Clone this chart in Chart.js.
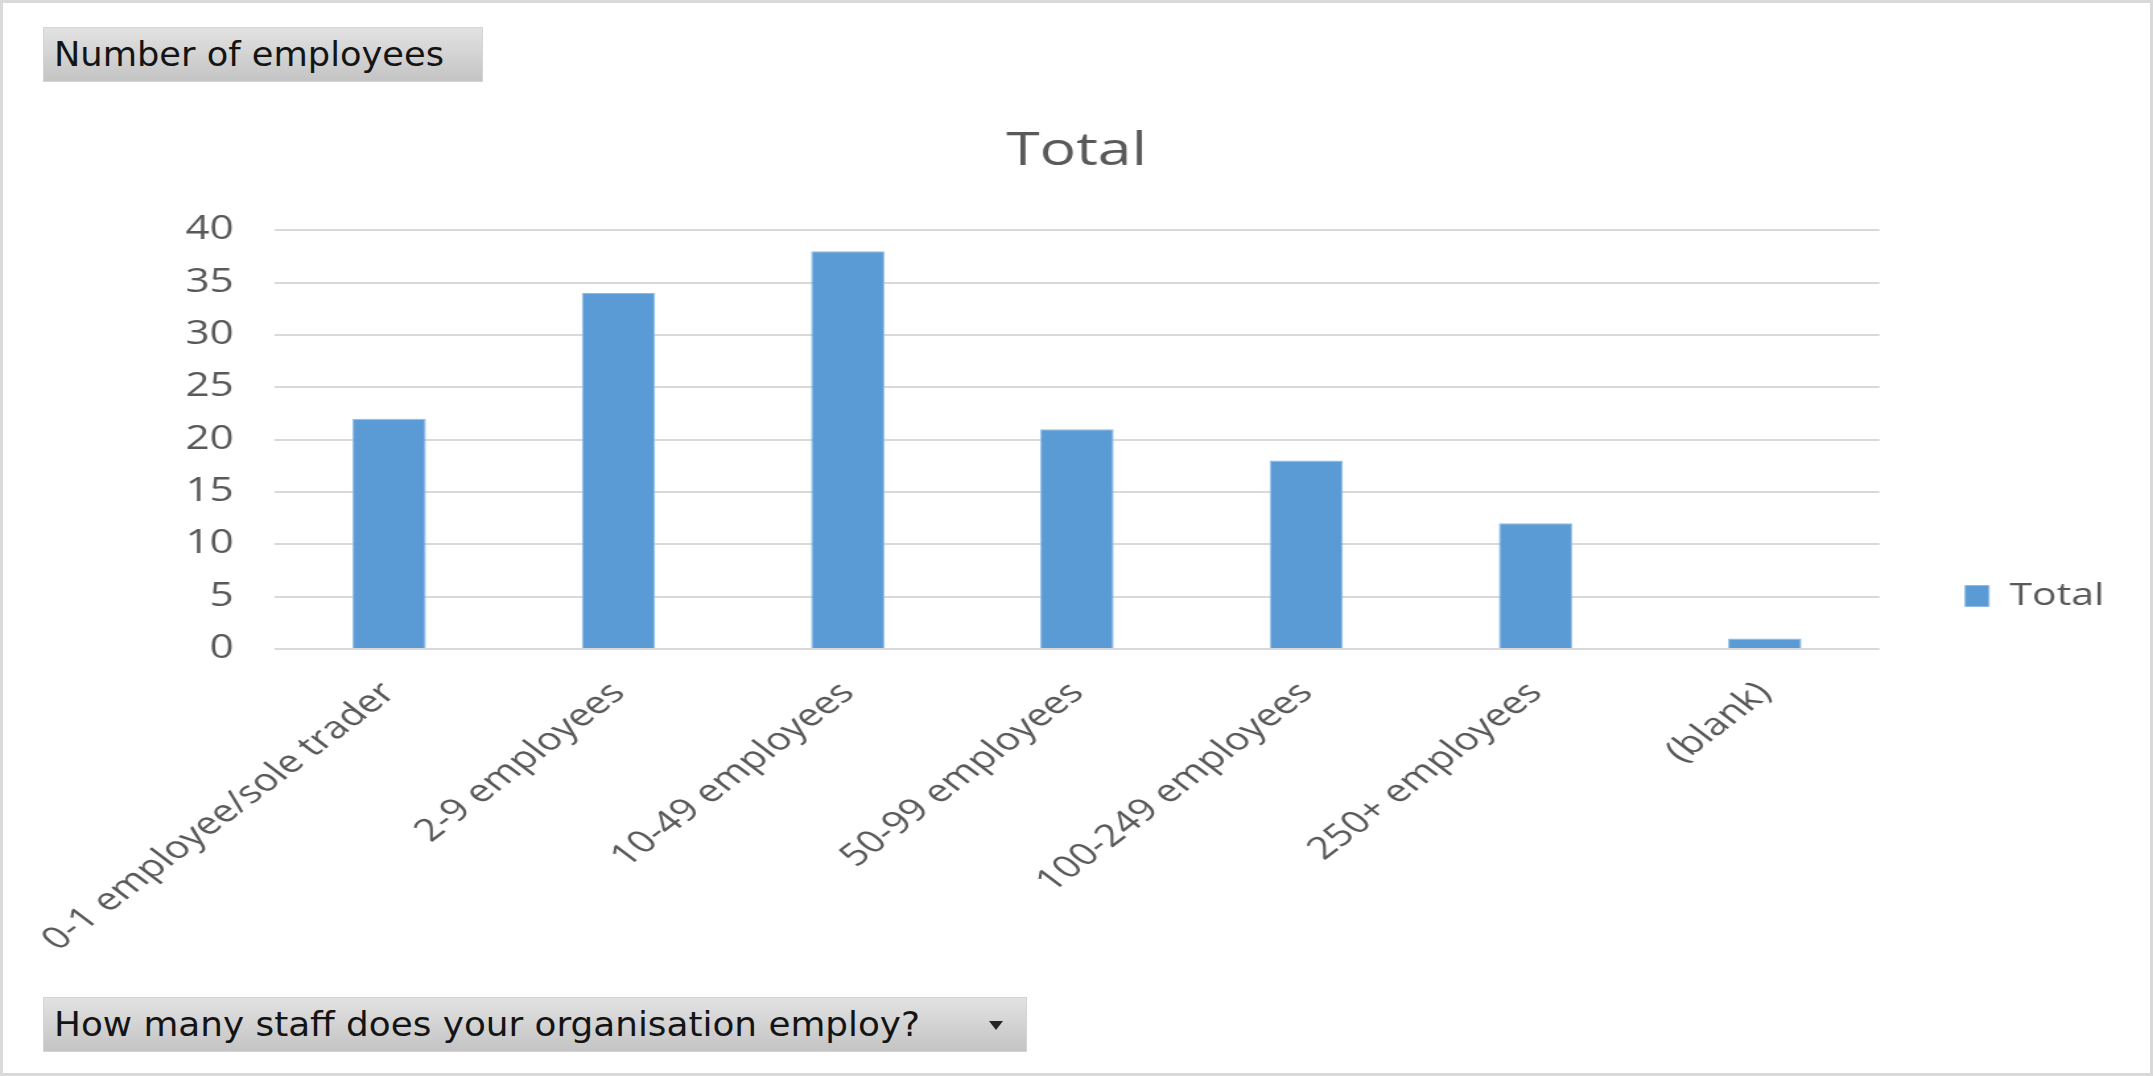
<!DOCTYPE html>
<html>
<head>
<meta charset="utf-8">
<script src="https://cdn.jsdelivr.net/npm/chart.js@4.4.1/dist/chart.umd.min.js"></script>
<style>
  html, body { margin: 0; padding: 0; background: #ffffff; }
  body { width: 2153px; height: 1076px; position: relative; overflow: hidden; }
  /* the chart is laid out on a narrower canvas and widened to the page */
  #stage {
    position: absolute; left: 0; top: 0; width: 1631px; height: 1076px;
    transform: scaleX(1.3201); transform-origin: 0 0;
  }
  #frame {
    position: absolute; left: 0; top: 0; width: 2147px; height: 1070px;
    border: 3px solid #d9d9d9; box-sizing: content-box;
  }
  .field-btn {
    position: absolute; box-sizing: border-box;
    background: linear-gradient(#e2e2e2, #c4c4c4);
    border: 1px solid #d4d4d4;
    color: #141414; white-space: nowrap; overflow: visible;
    font-family: "DejaVu Sans", Tahoma, sans-serif; font-size: 34px;
  }
  .field-btn .txt { display: inline-block; transform-origin: 0 50%; }
  #measureBtn { left: 43px; top: 27px; width: 440px; height: 55px; line-height: 53px; padding-left: 10px; }
  #rowBtn { left: 43px; top: 997px; width: 984px; height: 55px; line-height: 53px; padding-left: 10px; }
  #rowBtn .arrow {
    position: absolute; left: 945px; top: 23px; width: 0; height: 0;
    border-left: 7px solid transparent; border-right: 7px solid transparent;
    border-top: 9px solid #262626;
  }
</style>
</head>
<body>
<div id="stage"><canvas id="chart" width="1631" height="1076"></canvas></div>
<div id="frame"></div>
<div class="field-btn" id="measureBtn"><span class="txt" data-w="390">Number of employees</span></div>
<div class="field-btn" id="rowBtn"><span class="txt" data-w="866">How many staff does your organisation employ?</span><span class="arrow"></span></div>
<script>
// Company size bands and response counts
const categories = [
  "0-1 employee/sole trader",
  "2-9 employees",
  "10-49 employees",
  "50-99 employees",
  "100-249 employees",
  "250+ employees",
  "(blank)"
];
const totals = [22, 34, 38, 21, 18, 12, 1];
const seriesName = "Total";
const chartTitle = "Total";
const yTicks = [0, 5, 10, 15, 20, 25, 30, 35, 40];

const labelColor = "#595959";
const baseFont = "'Open Sans', 'DejaVu Sans', sans-serif";

// field buttons: fit each caption to its button width
document.querySelectorAll(".field-btn .txt").forEach(el => {
  const w = el.getBoundingClientRect().width;
  el.style.transform = "scaleX(" + (Number(el.dataset.w) / w) + ")";
});

new Chart(document.getElementById("chart"), {
  type: "bar",
  data: {
    labels: categories,
    datasets: [{
      label: seriesName,
      data: totals,
      backgroundColor: "#5b9bd5",
      borderColor: "#8fbbe4",
      borderWidth: 1,
      categoryPercentage: 1,
      barPercentage: 0.32
    }]
  },
  options: {
    responsive: false,
    animation: false,
    layout: { padding: { left: 27, right: 27, top: 0, bottom: 0 } },
    plugins: {
      title: {
        display: true,
        text: chartTitle,
        color: labelColor,
        font: { family: baseFont, size: 46, weight: "normal" },
        padding: { top: 124, bottom: 51 }
      },
      legend: {
        position: "right",
        // empty legend heading: only reserves space so the key sits lower
        title: {
          display: true,
          text: "",
          font: { family: baseFont, size: 10 },
          padding: { top: 104, bottom: 0 }
        },
        labels: {
          color: labelColor,
          font: { family: baseFont, size: 31 },
          boxWidth: 18,
          boxHeight: 21,
          padding: 65
        }
      },
      tooltip: { enabled: false }
    },
    scales: {
      x: {
        grid: { display: false },
        border: { display: false },
        ticks: {
          color: labelColor,
          font: { family: baseFont, size: 31 },
          minRotation: 45,
          maxRotation: 45,
          padding: 18
        },
        afterFit(scale) { scale.height = 427; }
      },
      y: {
        min: 0,
        max: 40,
        afterBuildTicks(scale) { scale.ticks = yTicks.map(v => ({ value: v })); },
        grid: { color: "#d9d9d9", lineWidth: 2, drawTicks: false },
        border: { display: false },
        ticks: {
          color: labelColor,
          font: { family: baseFont, size: 32 },
          padding: 31
        },
        afterFit(scale) { scale.width = 181; }
      }
    }
  }
});
</script>
</body>
</html>
